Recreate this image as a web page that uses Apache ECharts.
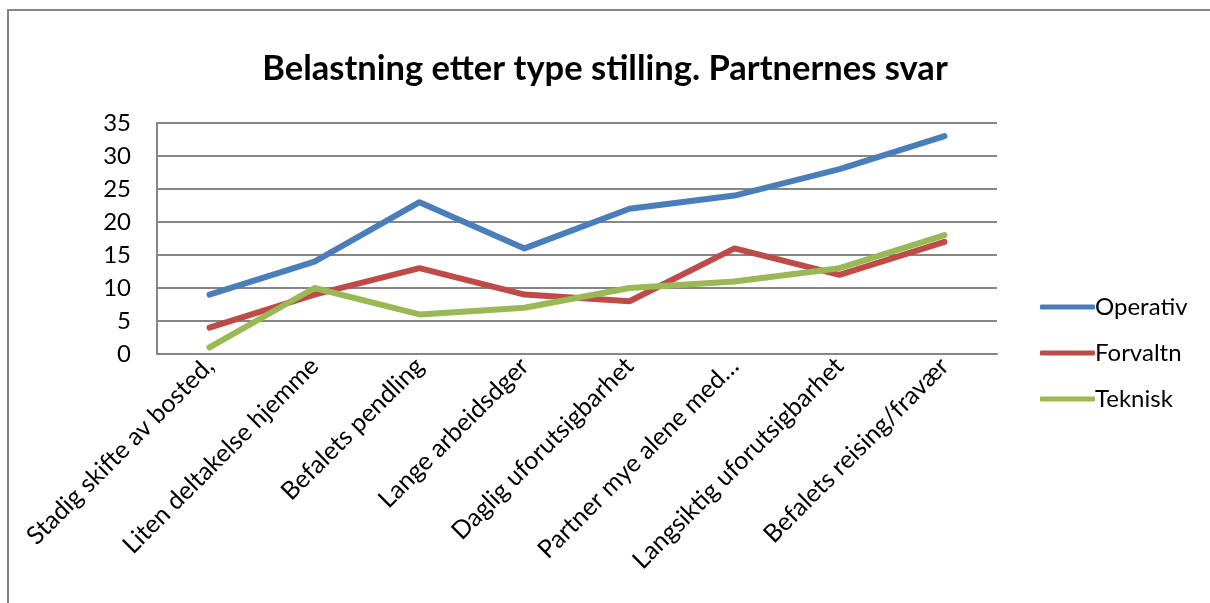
<!DOCTYPE html>
<html>
<head>
<meta charset="utf-8">
<script src="https://cdn.jsdelivr.net/npm/echarts@6/dist/echarts.min.js"></script>
<style>
html,body{margin:0;padding:0;background:#fff;}
#chart{width:1210px;height:603px;}
</style>
</head>
<body>
<div id="chart"></div>
<script>
const categories = [
  "Stadig skifte av bosted,",
  "Liten deltakelse hjemme",
  "Befalets pendling",
  "Lange arbeidsdger",
  "Daglig uforutsigbarhet",
  "Partner mye alene med…",
  "Langsiktig uforutsigbarhet",
  "Befalets reising/fravær"
];
const operativ = [9, 14, 23, 16, 22, 24, 28, 33];
const forvaltn = [4, 9, 13, 9, 8, 16, 12, 17];
const teknisk = [1, 10, 6, 7, 10, 11, 13, 18];
const seriesNames = ["Operativ", "Forvaltn", "Teknisk"];
const yTicks = { min: 0, max: 35, interval: 5 };

const FONT = "Lato, 'Open Sans', sans-serif";
const colors = ["#4A7EBB", "#BE4B48", "#98B954"];
const chart = echarts.init(document.getElementById('chart'));
const mk = (name, data, color) => ({
  name, type: 'line', data, symbol: 'none',
  lineStyle: { width: 6, color, cap: 'round', join: 'round' },
  itemStyle: { color },
  animation: false
});
chart.setOption({
  animation: false,
  color: colors,
  title: {
    text: "Belastning etter type stilling. Partnernes svar",
    left: 'center', top: 46,
    textStyle: { fontFamily: FONT, fontWeight: 'bold', fontSize: 34.5, color: '#000' }
  },
  graphic: [{
    type: 'rect', shape: { x: 8, y: 10, width: 1220, height: 620 },
    style: { fill: 'none', stroke: '#868686', lineWidth: 2 }, silent: true, z: -1
  }],
  legend: {
    orient: 'vertical', left: 1035, top: 290,
    itemWidth: 55, itemHeight: 5, itemGap: 22, icon: 'roundRect',
    textStyle: { fontFamily: FONT, fontSize: 24, color: '#000', padding: [0, 0, 0, -5] },
    data: seriesNames
  },
  grid: { left: 157, right: 213, top: 123, bottom: 249, containLabel: false },
  xAxis: {
    type: 'category', data: categories, boundaryGap: true,
    axisLine: { show: true, lineStyle: { color: '#868686', width: 2 } },
    axisTick: { show: false },
    axisLabel: { rotate: 45, interval: 0, margin: 8, fontFamily: FONT, fontSize: 25, color: '#000' }
  },
  yAxis: {
    type: 'value', min: yTicks.min, max: yTicks.max, interval: yTicks.interval,
    axisLine: { show: true, lineStyle: { color: '#868686', width: 2 } },
    axisTick: { show: false },
    splitLine: { show: true, lineStyle: { color: '#868686', width: 2 } },
    axisLabel: { margin: 26, fontFamily: FONT, fontSize: 24, color: '#000' }
  },
  series: [
    mk(seriesNames[0], operativ, colors[0]),
    mk(seriesNames[1], forvaltn, colors[1]),
    mk(seriesNames[2], teknisk, colors[2])
  ]
});
</script>
</body>
</html>
